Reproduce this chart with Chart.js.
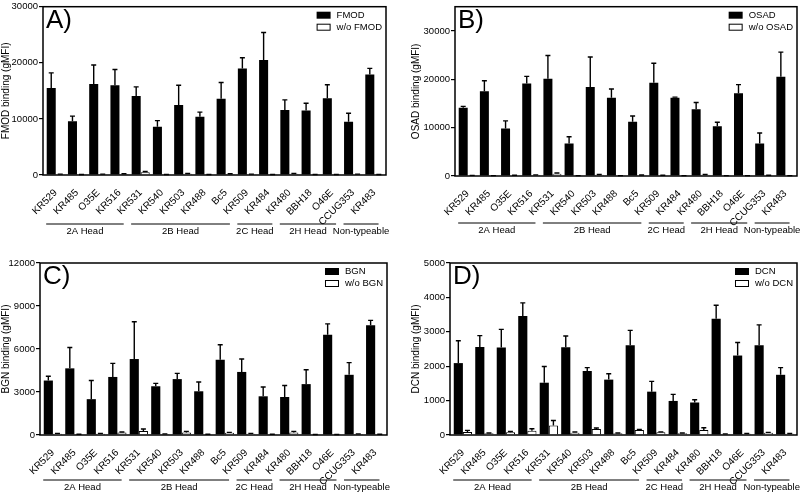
<!DOCTYPE html>
<html>
<head>
<meta charset="utf-8">
<script src="https://cdn.jsdelivr.net/npm/chart.js@4.4.1/dist/chart.umd.min.js"></script>
<style>
  body { margin: 0; background: #fff; }
  .panel { position: absolute; width: 400px; height: 248px; }
</style>
</head>
<body>
<div class="panel" style="left:0;top:0"><canvas id="chartA" width="400" height="248"></canvas></div>
<div class="panel" style="left:400px;top:0"><canvas id="chartB" width="400" height="248"></canvas></div>
<div class="panel" style="left:0;top:248px"><canvas id="chartC" width="400" height="248"></canvas></div>
<div class="panel" style="left:400px;top:248px"><canvas id="chartD" width="400" height="248"></canvas></div>
<script>
// Strains and head-type groups
const categories = ['KR529', 'KR485', 'O35E', 'KR516', 'KR531', 'KR540', 'KR503', 'KR488', 'Bc5',
  'KR509', 'KR484', 'KR480', 'BBH18', 'O46E', 'CCUG353', 'KR483'];
const groupLabels = ['2A Head', '2B Head', '2C Head', '2H Head', 'Non-typeable'];
const groupFirst = [0, 4, 9, 11, 14];
const groupLast = [3, 8, 10, 13, 15];

// A) FMOD
const fmodTicks = [0, 10000, 20000, 30000];
const fmodMean = [15500, 9600, 16200, 16000, 14100, 8600, 12500, 10400, 13600, 19000, 20500, 11600, 11500, 13700, 9500, 17900];
const fmodSd = [2700, 900, 3400, 2800, 1600, 1100, 3500, 800, 2900, 1900, 4900, 1800, 1300, 2400, 1500, 1100];
const fmodCtrl = [120, 60, 120, 170, 470, 60, 230, 60, 170, 120, 60, 230, 60, 60, 120, 60];
const fmodCtrlSd = [30, 20, 30, 40, 150, 20, 50, 20, 40, 30, 20, 50, 20, 20, 30, 20];

// B) OSAD
const osadTicks = [0, 10000, 20000, 30000];
const osadMean = [14100, 17500, 9800, 19100, 20100, 6700, 18400, 16200, 11200, 19300, 16200, 13800, 10300, 17100, 6700, 20500];
const osadSd = [300, 2200, 1600, 1500, 4800, 1400, 6200, 1800, 1200, 4000, 100, 1400, 800, 1800, 2200, 5100];
const osadCtrl = [100, 60, 120, 200, 480, 60, 250, 60, 180, 120, 60, 250, 60, 60, 120, 60];
const osadCtrlSd = [30, 20, 30, 40, 150, 20, 50, 20, 40, 30, 20, 50, 20, 20, 30, 20];

// C) BGN
const bgnTicks = [0, 3000, 6000, 9000, 12000];
const bgnMean = [3800, 4650, 2500, 4050, 5300, 3400, 3900, 3050, 5250, 4400, 2700, 2650, 3550, 7000, 4200, 7650];
const bgnSd = [300, 1450, 1300, 950, 2600, 200, 400, 650, 1050, 900, 650, 800, 1000, 750, 850, 350];
const bgnCtrl = [90, 45, 90, 180, 280, 70, 180, 45, 160, 90, 45, 180, 25, 25, 70, 45];
const bgnCtrlSd = [20, 10, 20, 30, 140, 10, 70, 10, 20, 20, 10, 70, 5, 5, 10, 10];

// D) DCN
const dcnTicks = [0, 1000, 2000, 3000, 4000, 5000];
const dcnMean = [2090, 2560, 2540, 3460, 1520, 2550, 1860, 1610, 2610, 1260, 990, 945, 3380, 2310, 2610, 1750];
const dcnSd = [650, 330, 530, 380, 470, 330, 100, 170, 430, 300, 190, 80, 390, 380, 590, 210];
const dcnCtrl = [87, 48, 77, 125, 279, 67, 173, 48, 144, 77, 48, 144, 29, 38, 67, 38];
const dcnCtrlSd = [48, 10, 28, 58, 144, 20, 29, 10, 19, 15, 10, 67, 5, 5, 10, 5];

const FONT = '"Liberation Sans", Arial, Helvetica, sans-serif';
Chart.defaults.font.family = FONT;
Chart.defaults.color = '#000';

function panelPlugin(p) {
  return {
    id: 'panel' + p.letter,
    afterDatasetsDraw(chart) {
      const ctx = chart.ctx, a = chart.chartArea, x = chart.scales.x, y = chart.scales.y;
      ctx.save();
      ctx.strokeStyle = '#000';
      ctx.fillStyle = '#000';

      // error bars (upper only)
      ctx.lineWidth = 1.4;
      chart.data.datasets.forEach((ds, d) => {
        chart.getDatasetMeta(d).data.forEach((bar, i) => {
          const sd = ds.errors[i];
          if (!sd) return;
          const top = y.getPixelForValue(ds.data[i] + sd);
          ctx.beginPath();
          ctx.moveTo(bar.x, bar.y);
          ctx.lineTo(bar.x, top);
          ctx.moveTo(bar.x - 2.5, top);
          ctx.lineTo(bar.x + 2.5, top);
          ctx.stroke();
        });
      });

      // frame
      ctx.lineWidth = 1.5;
      ctx.strokeRect(a.left, a.top, a.right - a.left, a.bottom - a.top);

      // panel letter
      ctx.font = '26px ' + FONT;
      ctx.textAlign = 'left';
      ctx.textBaseline = 'alphabetic';
      ctx.fillText(p.letter + ')', a.left + 3, a.top + 21);

      // legend
      ctx.font = '9.5px ' + FONT;
      ctx.textBaseline = 'middle';
      const names = chart.data.datasets.map(ds => ds.label);
      const w = Math.max(...names.map(n => ctx.measureText(n).width));
      const bx = a.right - 4 - w - 6 - 14;
      names.forEach((n, k) => {
        const cy = a.top + 8.5 + k * 12;
        if (k === 0) {
          ctx.fillRect(bx, cy - 3.5, 14, 7);
        } else {
          ctx.lineWidth = 1;
          ctx.strokeRect(bx + 0.5, cy - 3, 13, 6);
        }
        ctx.fillText(n, bx + 20, cy);
      });

      // strain groups under the axis
      const pitch = x.getPixelForValue(1) - x.getPixelForValue(0);
      ctx.lineWidth = 1;
      ctx.textAlign = 'center';
      ctx.font = '9.5px ' + FONT;
      groupLabels.forEach((g, k) => {
        const x0 = x.getPixelForValue(groupFirst[k]) - 0.45 * pitch;
        const x1 = x.getPixelForValue(groupLast[k]) + 0.2 * pitch;
        const ly = a.bottom + p.groupGap;
        ctx.beginPath();
        ctx.moveTo(x0, ly);
        ctx.lineTo(x1, ly);
        ctx.stroke();
        ctx.fillText(g, (x0 + x1) / 2, ly + 7);
      });
      ctx.restore();
    }
  };
}

function makePanel(p) {
  new Chart(document.getElementById(p.id), {
    type: 'bar',
    data: {
      labels: categories.map((c, i) => i),
      datasets: [{
        label: p.name,
        data: p.mean,
        errors: p.sd,
        backgroundColor: '#000',
        borderWidth: 0
      }, {
        label: 'w/o ' + p.name,
        data: p.ctrl,
        errors: p.ctrlSd,
        backgroundColor: '#fff',
        borderColor: '#000',
        borderWidth: 1
      }]
    },
    options: {
      responsive: false,
      animation: false,
      categoryPercentage: 0.85,
      barPercentage: 1,
      layout: {
        padding: { left: 0, top: p.area.top, right: 400 - p.area.right, bottom: 0 }
      },
      scales: {
        x: {
          type: 'linear',
          min: -0.6,
          max: 15.55,
          offset: false,
          bounds: 'data',
          grid: { display: false },
          border: { display: false },
          afterBuildTicks: s => { s.ticks = categories.map((c, i) => ({ value: i })); },
          afterFit: s => { s.height = 248 - p.area.bottom; },
          ticks: {
            autoSkip: false,
            minRotation: 45,
            maxRotation: 45,
            padding: 4,
            font: { size: 10 },
            callback: v => categories[v]
          }
        },
        y: {
          min: 0,
          max: p.yMax,
          grid: { drawOnChartArea: false, drawTicks: true, tickLength: 4, color: '#000', lineWidth: 1.2 },
          border: { display: false },
          afterBuildTicks: s => { s.ticks = p.ticks.map(v => ({ value: v })); },
          afterFit: s => { s.width = p.area.left; },
          ticks: { padding: 1, font: { size: 9.5 }, callback: v => String(v) },
          title: {
            display: true,
            text: p.name + ' binding (gMFI)',
            font: { size: 10 },
            padding: { top: p.titlePad, bottom: 0 }
          }
        }
      },
      plugins: { legend: { display: false }, tooltip: { enabled: false } }
    },
    plugins: [panelPlugin(p)]
  });
}

makePanel({ id: 'chartA', letter: 'A', name: 'FMOD', mean: fmodMean, sd: fmodSd, ctrl: fmodCtrl, ctrlSd: fmodCtrlSd,
  ticks: fmodTicks, yMax: 30000, area: { left: 43, top: 4, right: 386, bottom: 175 }, titlePad: 0, groupGap: 49 });
makePanel({ id: 'chartB', letter: 'B', name: 'OSAD', mean: osadMean, sd: osadSd, ctrl: osadCtrl, ctrlSd: osadCtrlSd,
  ticks: osadTicks, yMax: 35000, area: { left: 55, top: 4, right: 397, bottom: 176 }, titlePad: 10, groupGap: 47 });
makePanel({ id: 'chartC', letter: 'C', name: 'BGN', mean: bgnMean, sd: bgnSd, ctrl: bgnCtrl, ctrlSd: bgnCtrlSd,
  ticks: bgnTicks, yMax: 12000, area: { left: 40, top: 15, right: 387, bottom: 187 }, titlePad: 0, groupGap: 45 });
makePanel({ id: 'chartD', letter: 'D', name: 'DCN', mean: dcnMean, sd: dcnSd, ctrl: dcnCtrl, ctrlSd: dcnCtrlSd,
  ticks: dcnTicks, yMax: 5000, area: { left: 50, top: 15, right: 397, bottom: 187 }, titlePad: 10, groupGap: 45 });
</script>
</body>
</html>
